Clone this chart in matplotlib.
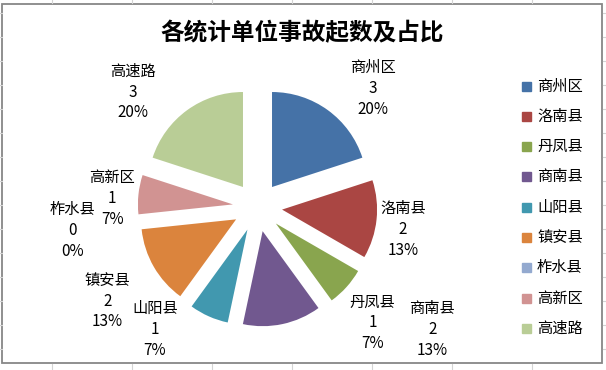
import matplotlib
matplotlib.use("Agg")
import matplotlib.pyplot as plt
from matplotlib.lines import Line2D
from matplotlib.patches import Rectangle

plt.rcParams['font.family'] = ['Noto Sans CJK SC', 'DejaVu Sans']

# data
categories = ['商州区', '洛南县', '丹凤县', '商南县', '山阳县', '镇安县', '柞水县', '高新区', '高速路']
counts = [3, 2, 1, 2, 1, 2, 0, 1, 3]
colors = ['#4572A7', '#AA4643', '#89A54E', '#71588F', '#4198AF',
          '#DB843D', '#93A9CF', '#D19392', '#B9CD96']
title = '各统计单位事故起数及占比'

# label positions in pie-radius units (Excel "best fit" placement)
label_pos = [(1.21, 1.25), (1.53, -0.24), (1.21, -1.22), (1.84, -1.29), (-1.08, -1.29),
             (-1.58, -0.99), (-1.95, -0.25), (-1.53, 0.09), (-1.31, 1.21)]

W, H = 606, 370
cx, cy, r = 257.5, 207, 95  # pie centre / radius in pixels

fig = plt.figure(figsize=(W / 100, H / 100), dpi=100)
ax = fig.add_axes([0, 0, 1, 1])

total = sum(counts)
wedges, _ = ax.pie(counts, colors=colors, startangle=90, counterclock=False,
                   explode=[0.26] * len(counts), radius=1)
ax.set_aspect('auto')
ax.set_xlim(-cx / r, (W - cx) / r)
ax.set_ylim(-(H - cy) / r, cy / r)
ax.axis('off')

for name, n, (lx, ly) in zip(categories, counts, label_pos):
    pct = round(n / total * 100)
    ax.text(lx, ly, f'{name}\n{n}\n{pct}%', ha='center', va='center',
            fontsize=11, linespacing=1.3, color='black')

fig.text(302 / W, 1 - 33 / H, title, ha='center', va='center',
         fontsize=17, fontweight='bold')

# legend drawn by hand to match spacing
for i, (name, c) in enumerate(zip(categories, colors)):
    y = 86 + i * 30.3
    fig.add_artist(Rectangle((522 / W, 1 - (y + 4.5) / H), 9 / W, 9 / H,
                             transform=fig.transFigure, color=c))
    fig.text(537 / W, 1 - y / H, name, ha='left', va='center', fontsize=11)

# chart border
fig.add_artist(Rectangle((2 / W, 1 - 363 / H), 600 / W, 359 / H, transform=fig.transFigure,
                         fill=False, edgecolor='#878787', linewidth=1.3))

# worksheet cell gridlines peeking out around the chart
for gx in range(52, W, 80):
    fig.add_artist(Line2D([gx / W] * 2, [1, 1 - 3 / H], transform=fig.transFigure,
                          color='#d4d4d4', linewidth=0.8))
    fig.add_artist(Line2D([gx / W] * 2, [0, 6 / H], transform=fig.transFigure,
                          color='#d4d4d4', linewidth=0.8))
for gy in range(13, H, 24):
    fig.add_artist(Line2D([0, 1.5 / W], [1 - gy / H] * 2, transform=fig.transFigure,
                          color='#d4d4d4', linewidth=0.8))
    fig.add_artist(Line2D([1 - 3 / W, 1], [1 - gy / H] * 2, transform=fig.transFigure,
                          color='#d4d4d4', linewidth=0.8))

fig.savefig('out.png', dpi=100)
